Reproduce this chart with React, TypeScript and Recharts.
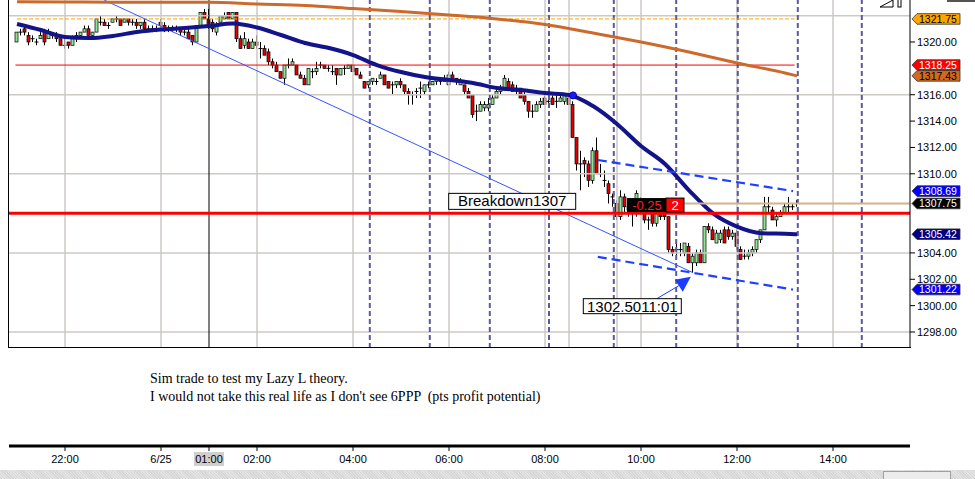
import React from "react";
import {
  ComposedChart,
  Bar,
  Line,
  XAxis,
  YAxis,
  ReferenceLine,
  ReferenceDot,
} from "recharts";

// 5-minute ES bars, first bar 21:00 on 6/24 (minutes are counted from 6/25 00:00)
const START_MIN = -180;
const BAR_MIN = 5;

// [open, high, low, close]
const bars: [number, number, number, number][] = [
  [1320.0, 1320.75, 1320.0, 1320.75],
  [1320.75, 1321.0, 1320.5, 1320.75],
  [1321.0, 1321.25, 1320.5, 1320.75],
  [1320.5, 1320.75, 1319.75, 1320.0],
  [1320.25, 1320.5, 1320.0, 1320.25],
  [1320.0, 1320.25, 1319.75, 1320.0],
  [1320.25, 1320.75, 1320.25, 1320.5],
  [1320.75, 1321.0, 1319.75, 1320.0],
  [1320.25, 1321.0, 1320.25, 1320.75],
  [1320.5, 1320.75, 1320.25, 1320.5],
  [1320.5, 1320.75, 1320.0, 1320.25],
  [1320.25, 1320.25, 1319.75, 1319.75],
  [1319.75, 1320.25, 1319.5, 1319.75],
  [1320.0, 1320.0, 1319.5, 1319.75],
  [1319.75, 1320.5, 1319.75, 1320.25],
  [1320.25, 1320.75, 1320.0, 1320.5],
  [1320.5, 1320.75, 1320.25, 1320.75],
  [1320.75, 1321.25, 1320.75, 1321.0],
  [1321.0, 1321.25, 1320.5, 1320.5],
  [1320.5, 1320.75, 1320.5, 1320.75],
  [1320.75, 1321.75, 1320.75, 1321.75],
  [1321.5, 1322.0, 1321.25, 1321.5],
  [1321.5, 1321.75, 1321.25, 1321.25],
  [1321.25, 1321.5, 1321.0, 1321.25],
  [1321.5, 1321.75, 1321.5, 1321.75],
  [1321.75, 1322.0, 1321.5, 1321.75],
  [1321.75, 1321.75, 1321.25, 1321.25],
  [1321.5, 1321.75, 1321.5, 1321.75],
  [1321.75, 1321.75, 1321.25, 1321.5],
  [1321.5, 1321.75, 1321.25, 1321.5],
  [1321.5, 1321.75, 1321.0, 1321.25],
  [1321.25, 1321.5, 1321.0, 1321.5],
  [1321.5, 1321.75, 1320.75, 1321.0],
  [1321.0, 1321.25, 1320.75, 1321.0],
  [1321.0, 1321.25, 1320.75, 1321.0],
  [1321.0, 1321.25, 1320.75, 1321.0],
  [1321.5, 1321.75, 1321.0, 1321.25],
  [1321.25, 1321.5, 1320.75, 1321.0],
  [1321.0, 1321.25, 1320.75, 1321.0],
  [1321.0, 1321.25, 1320.75, 1321.0],
  [1321.0, 1321.25, 1320.75, 1321.0],
  [1321.0, 1321.0, 1320.5, 1320.75],
  [1320.75, 1321.0, 1320.5, 1320.75],
  [1320.75, 1321.0, 1320.25, 1320.25],
  [1320.5, 1320.5, 1319.75, 1320.0],
  [1320.0, 1321.25, 1320.0, 1321.25],
  [1321.25, 1322.25, 1321.25, 1322.25],
  [1322.25, 1322.5, 1321.75, 1321.75],
  [1321.75, 1322.5, 1321.0, 1321.25],
  [1321.5, 1321.75, 1320.75, 1321.0],
  [1320.75, 1321.5, 1320.5, 1321.25],
  [1321.5, 1322.0, 1321.5, 1322.0],
  [1321.75, 1322.25, 1321.75, 1322.0],
  [1322.25, 1322.25, 1321.75, 1321.75],
  [1321.75, 1322.25, 1321.75, 1322.25],
  [1322.25, 1322.25, 1320.0, 1320.25],
  [1320.25, 1320.5, 1319.5, 1319.5],
  [1319.75, 1320.75, 1319.5, 1320.25],
  [1320.0, 1320.25, 1319.5, 1319.5],
  [1319.5, 1320.25, 1319.5, 1320.0],
  [1320.0, 1320.5, 1319.5, 1319.75],
  [1319.5, 1320.0, 1318.75, 1319.5],
  [1319.5, 1319.75, 1319.0, 1319.0],
  [1319.25, 1319.5, 1318.25, 1318.5],
  [1318.5, 1318.75, 1318.0, 1318.25],
  [1318.25, 1318.5, 1317.75, 1317.75],
  [1317.75, 1317.75, 1317.25, 1317.25],
  [1317.25, 1318.25, 1316.75, 1318.25],
  [1318.25, 1318.75, 1318.0, 1318.25],
  [1318.25, 1318.75, 1318.25, 1318.5],
  [1318.25, 1318.25, 1317.5, 1317.5],
  [1317.5, 1317.75, 1317.25, 1317.25],
  [1317.25, 1317.5, 1316.75, 1316.75],
  [1316.75, 1318.0, 1316.75, 1318.0],
  [1317.75, 1318.0, 1317.25, 1317.75],
  [1317.75, 1318.5, 1317.5, 1318.0],
  [1318.25, 1318.5, 1318.0, 1318.25],
  [1318.25, 1318.25, 1318.0, 1318.0],
  [1318.0, 1318.25, 1317.75, 1318.0],
  [1317.75, 1318.25, 1317.5, 1317.75],
  [1318.0, 1318.0, 1316.75, 1317.5],
  [1317.5, 1318.0, 1317.5, 1318.0],
  [1318.0, 1318.25, 1317.5, 1318.0],
  [1318.0, 1318.25, 1318.0, 1318.25],
  [1318.25, 1318.25, 1317.75, 1317.75],
  [1318.0, 1318.0, 1317.5, 1317.5],
  [1317.5, 1317.75, 1317.25, 1317.25],
  [1317.0, 1317.0, 1316.5, 1316.5],
  [1316.75, 1317.0, 1316.5, 1317.0],
  [1317.0, 1317.25, 1316.75, 1317.25],
  [1317.0, 1317.25, 1316.75, 1317.0],
  [1317.25, 1317.75, 1317.25, 1317.5],
  [1317.5, 1317.5, 1316.75, 1316.75],
  [1317.0, 1317.0, 1316.5, 1316.5],
  [1316.75, 1317.0, 1316.0, 1316.75],
  [1316.75, 1317.0, 1316.5, 1317.0],
  [1317.0, 1317.25, 1316.5, 1316.75],
  [1316.75, 1316.75, 1316.0, 1316.25],
  [1316.25, 1316.5, 1315.25, 1316.0],
  [1316.0, 1316.25, 1315.25, 1316.0],
  [1316.25, 1316.5, 1315.75, 1316.25],
  [1316.5, 1317.0, 1315.75, 1316.5],
  [1316.25, 1316.75, 1316.0, 1316.75],
  [1316.75, 1317.0, 1316.5, 1316.75],
  [1316.75, 1317.0, 1316.75, 1317.0],
  [1317.0, 1317.25, 1316.75, 1317.25],
  [1317.25, 1317.25, 1316.75, 1317.0],
  [1317.0, 1317.5, 1317.0, 1317.25],
  [1316.75, 1317.75, 1316.75, 1317.5],
  [1317.5, 1317.75, 1317.0, 1317.25],
  [1317.25, 1317.25, 1316.75, 1317.0],
  [1316.75, 1317.25, 1316.75, 1317.0],
  [1316.75, 1316.75, 1316.0, 1316.25],
  [1316.25, 1316.5, 1315.75, 1315.75],
  [1316.0, 1316.0, 1314.25, 1314.5],
  [1314.75, 1315.25, 1314.0, 1314.75],
  [1314.75, 1315.5, 1314.75, 1315.25],
  [1315.0, 1315.5, 1314.75, 1315.25],
  [1315.0, 1315.75, 1314.75, 1315.25],
  [1315.25, 1316.0, 1315.25, 1315.75],
  [1315.75, 1316.5, 1315.75, 1316.25],
  [1316.25, 1316.75, 1316.0, 1316.5],
  [1316.5, 1317.5, 1316.5, 1317.25],
  [1317.0, 1317.25, 1316.5, 1316.5],
  [1316.75, 1317.0, 1316.25, 1316.25],
  [1316.25, 1316.75, 1316.0, 1316.5],
  [1316.5, 1316.5, 1315.75, 1315.75],
  [1316.0, 1316.25, 1315.25, 1315.5],
  [1315.5, 1315.5, 1314.25, 1314.75],
  [1314.75, 1315.25, 1314.25, 1314.75],
  [1314.75, 1315.5, 1314.75, 1315.25],
  [1315.25, 1315.75, 1315.0, 1315.5],
  [1315.75, 1316.0, 1315.25, 1315.25],
  [1315.5, 1315.75, 1315.0, 1315.5],
  [1315.75, 1316.0, 1315.25, 1315.25],
  [1315.5, 1316.0, 1315.0, 1315.5],
  [1315.5, 1316.0, 1315.5, 1315.75],
  [1315.5, 1316.0, 1315.25, 1316.0],
  [1315.75, 1316.0, 1315.25, 1315.25],
  [1315.25, 1315.5, 1312.75, 1312.75],
  [1312.75, 1312.75, 1310.25, 1310.75],
  [1310.75, 1311.75, 1308.75, 1310.75],
  [1311.0, 1311.25, 1309.75, 1310.75],
  [1310.75, 1311.0, 1309.0, 1309.5],
  [1309.5, 1312.0, 1309.25, 1311.75],
  [1311.75, 1312.75, 1310.0, 1310.0],
  [1310.0, 1310.75, 1309.75, 1310.0],
  [1309.5, 1310.25, 1309.0, 1309.5],
  [1309.25, 1309.5, 1307.75, 1308.5],
  [1308.25, 1308.5, 1307.5, 1308.25],
  [1307.75, 1308.0, 1306.5, 1306.75],
  [1306.75, 1308.75, 1306.5, 1308.25],
  [1308.25, 1308.5, 1307.0, 1307.5],
  [1307.5, 1307.75, 1306.75, 1307.25],
  [1307.0, 1307.25, 1306.0, 1307.0],
  [1308.0, 1308.75, 1306.75, 1308.5],
  [1308.0, 1308.25, 1307.0, 1307.25],
  [1307.0, 1307.25, 1306.25, 1306.5],
  [1306.5, 1306.75, 1305.75, 1306.5],
  [1307.0, 1307.25, 1306.0, 1306.25],
  [1306.25, 1307.25, 1306.0, 1307.0],
  [1307.0, 1307.25, 1306.5, 1306.75],
  [1307.0, 1307.25, 1306.5, 1306.75],
  [1306.75, 1306.75, 1304.0, 1304.25],
  [1304.25, 1304.5, 1303.75, 1304.0],
  [1304.25, 1304.75, 1303.75, 1304.25],
  [1304.25, 1304.75, 1303.75, 1304.25],
  [1304.0, 1304.75, 1303.75, 1304.75],
  [1304.5, 1304.75, 1303.25, 1303.25],
  [1303.25, 1304.0, 1302.5, 1303.75],
  [1303.25, 1304.25, 1303.0, 1304.0],
  [1304.0, 1304.25, 1303.25, 1303.25],
  [1303.25, 1306.0, 1303.25, 1306.0],
  [1306.0, 1306.25, 1305.5, 1305.75],
  [1305.75, 1306.0, 1305.0, 1305.0],
  [1304.75, 1305.75, 1304.75, 1305.5],
  [1305.0, 1305.75, 1304.75, 1305.5],
  [1305.75, 1306.0, 1304.75, 1304.75],
  [1305.75, 1306.0, 1305.0, 1305.25],
  [1305.25, 1305.75, 1305.0, 1305.5],
  [1305.5, 1305.75, 1304.25, 1304.5],
  [1304.25, 1304.5, 1303.5, 1303.5],
  [1303.75, 1304.25, 1303.5, 1303.75],
  [1303.75, 1304.25, 1303.5, 1304.0],
  [1304.0, 1304.5, 1303.75, 1304.25],
  [1304.25, 1305.0, 1304.0, 1305.0],
  [1305.0, 1305.75, 1304.75, 1305.75],
  [1305.75, 1308.25, 1305.75, 1307.5],
  [1307.5, 1308.25, 1307.0, 1307.5],
  [1307.25, 1307.5, 1306.5, 1306.5],
  [1306.5, 1307.0, 1306.0, 1306.75],
  [1306.75, 1307.25, 1306.75, 1307.0],
  [1307.0, 1307.75, 1307.0, 1307.5],
  [1307.5, 1308.25, 1307.0, 1307.5],
  [1307.5, 1307.75, 1307.25, 1307.5],
  [1307.75, 1308.0, 1307.5, 1307.75],
];

// moving averages: [bar index, value]
const navyMa: [number, number][] = [
  [0, 1321.37], [6, 1320.91], [12, 1320.38], [18, 1320.3], [24, 1320.46],
  [30, 1320.76], [36, 1320.95], [42, 1321.06], [48, 1321.21], [54, 1321.4],
  [60, 1321.1], [66, 1320.53], [72, 1319.92], [78, 1319.54], [84, 1319.01],
  [90, 1318.25], [96, 1317.72], [102, 1317.34], [108, 1317.12], [114, 1316.89],
  [120, 1316.51], [126, 1316.36], [132, 1316.13], [138, 1315.98], [144, 1315.14],
  [150, 1313.78], [156, 1312.11], [162, 1310.75], [168, 1308.75], [174, 1307.0],
  [180, 1306.0], [186, 1305.5], [192, 1305.45], [195, 1305.42],
];
const orangeMa: [number, number][] = [
  [0, 1323.06], [12, 1323.04], [24, 1323.01], [36, 1323.01], [48, 1323.01],
  [60, 1322.88], [72, 1322.77], [84, 1322.54], [96, 1322.31], [108, 1322.05],
  [120, 1321.75], [132, 1321.33], [144, 1320.68], [156, 1320.0], [168, 1319.24],
  [180, 1318.41], [192, 1317.65], [195, 1317.43],
];

// 1306, 1308 and 1318 sit under the price flags in the original, so they are not labelled
const priceTicks = [1298, 1300, 1302, 1304, 1310, 1312, 1314, 1316, 1320];
const priceGrid = [1298, 1304, 1310, 1316, 1322];
const timeGrid = [-120, 0, 120, 240, 360, 480, 510, 570, 600, 720, 840];
const dashedTimes = [261, 336, 411, 485, 566, 644, 721, 796, 876];
const timeTicks = [-120, 0, 60, 120, 240, 360, 480, 600, 720, 840];
const timeLabels = ["22:00", "6/25", "01:00", "02:00", "04:00", "06:00", "08:00", "10:00", "12:00", "14:00"];

const flags = [
  { value: 1321.75, fill: "#ffa500", color: "#000" },
  { value: 1318.25, fill: "#ff0000", color: "#fff" },
  { value: 1317.43, fill: "#d2691e", color: "#000" },
  { value: 1308.69, fill: "#0000ff", color: "#fff" },
  { value: 1307.75, fill: "#000000", color: "#fff" },
  { value: 1305.42, fill: "#000080", color: "#fff" },
  { value: 1301.22, fill: "#0000ff", color: "#fff" },
];

const breakdownLevel = 1307;
const entryLevel = 1307.75;
const resistance = 1318.25;
const highLevel = 1321.75;
const lowPoint = { m: 661, price: 1302.5 };
const trendLine = [{ m: -71, price: 1323.18 }, { m: 665, price: 1302.5 }];
const upperChannel = [{ m: 546, price: 1311.05 }, { m: 790, price: 1308.69 }];
const lowerChannel = [{ m: 546, price: 1303.7 }, { m: 790, price: 1301.22 }];

const X_DOMAIN: [number, number] = [-190, 936.25];
const Y_DOMAIN: [number, number] = [1296.786, 1323.186];
const SANS = "'Liberation Sans', Arial, sans-serif";

const navyMap = new Map(navyMa);
const orangeMap = new Map(orangeMa);
const rows = bars.map(([o, h, l, c], k) => ({
  m: START_MIN + k * BAR_MIN,
  o,
  h,
  l,
  c,
  range: [l, h],
  ma: navyMap.has(k) ? navyMap.get(k) : null,
  ma2: orangeMap.has(k) ? orangeMap.get(k) : null,
}));

const Candle = (props: any) => {
  const { x, y, width, height, payload } = props;
  const { o, h, l, c } = payload;
  const top = Math.min(y, y + height);
  const span = Math.abs(height);
  const py = (v: number) => (h === l ? top : top + ((h - v) / (h - l)) * span);
  const cx = x + width / 2;
  const bt = py(Math.max(o, c));
  const bb = py(Math.min(o, c));
  return (
    <g>
      <line x1={cx} x2={cx} y1={top} y2={top + span} stroke="#000" strokeWidth={1} />
      {o === c ? (
        <line x1={cx - 2} x2={cx + 2} y1={bt} y2={bt} stroke="#000" strokeWidth={1} />
      ) : (
        <rect
          x={cx - 1.5}
          y={bt}
          width={3}
          height={Math.max(1, bb - bt)}
          fill={c > o ? "#8fe68f" : "#e00000"}
          stroke="#000"
          strokeWidth={0.7}
        />
      )}
    </g>
  );
};

const FlagLabel = ({ viewBox, fill, color, text }: any) => {
  const x0 = viewBox.x + viewBox.width + 2;
  const cy = viewBox.y;
  return (
    <g>
      <polygon
        points={`${x0},${cy} ${x0 + 5},${cy - 5.3} ${x0 + 48},${cy - 5.3} ${x0 + 48},${cy + 5.3} ${x0 + 5},${cy + 5.3}`}
        fill={fill}
        stroke="#333"
        strokeWidth={0.8}
      />
      <text x={x0 + 7} y={cy + 3.8} fontSize={10.5} fontFamily={SANS} fill={color}>
        {text}
      </text>
    </g>
  );
};

const BreakdownBox = ({ cx, cy }: any) => (
  <g>
    <rect x={cx - 63.5} y={cy - 20} width={127} height={16} fill="#fff" stroke="#000" strokeWidth={1} />
    <text x={cx} y={cy - 7} textAnchor="middle" fontSize={15} fontFamily={SANS} fill="#000">
      Breakdown1307
    </text>
  </g>
);

const PositionBox = ({ cx, cy }: any) => (
  <g>
    <rect x={cx} y={cy - 7} width={39} height={14} fill="#000" />
    <rect x={cx + 39} y={cy - 7} width={18} height={14} fill="#ff0000" stroke="#000" strokeWidth={1} />
    <text x={cx + 20} y={cy + 5} textAnchor="middle" fontSize={13} fontFamily={SANS} fill="#ff2020">
      -0.25
    </text>
    <text x={cx + 48} y={cy + 5} textAnchor="middle" fontSize={13} fontFamily={SANS} fill="#fff">
      2
    </text>
  </g>
);

const LowMarker = ({ cx, cy }: any) => (
  <g>
    <line x1={cx - 33} y1={cy + 26} x2={cx - 11} y2={cy + 13} stroke="#1a3cff" strokeWidth={1} />
    <polygon
      points={`${cx + 1},${cy + 4} ${cx - 15},${cy + 7} ${cx - 7},${cy + 19}`}
      fill="#1a3cff"
    />
    <rect x={cx - 106.5} y={cy + 26} width={98} height={15} fill="#fff" stroke="#000" strokeWidth={1} />
    <text x={cx - 57.5} y={cy + 39} textAnchor="middle" fontSize={15} fontFamily={SANS} fill="#000">
      1302.5011:01
    </text>
  </g>
);

const TimeTick = (props: any) => {
  const { x, y, payload } = props;
  const label = timeLabels[timeTicks.indexOf(payload.value)];
  return (
    <g>
      {payload.value === 60 && <rect x={x - 15} y={y - 1} width={30} height={14} fill="#cfcfcf" />}
      <text x={x} y={y + 10} textAnchor="middle" fontSize={11} fontFamily={SANS} fill="#000">
        {label}
      </text>
    </g>
  );
};

export default function App() {
  return (
    <div style={{ position: "relative", width: 975, height: 479, background: "#fff", overflow: "hidden" }}>
      <style>{`body{margin:0}`}</style>
      <div style={{ position: "absolute", left: 0, top: 0 }}>
        <ComposedChart width={975} height={348} data={rows} margin={{ top: 0, right: 0, left: 9, bottom: 0 }}>
          <XAxis dataKey="m" type="number" domain={X_DOMAIN} allowDataOverflow hide />
          <YAxis
            orientation="right"
            width={65}
            domain={Y_DOMAIN}
            allowDataOverflow
            ticks={priceTicks}
            interval={0}
            tickFormatter={(v: number) => v.toFixed(2)}
            tick={{ fill: "#000", fontSize: 11, fontFamily: SANS }}
            tickSize={5}
            tickLine={{ stroke: "#000" }}
            axisLine={{ stroke: "#000" }}
          />
          {priceGrid.map((v) => (
            <ReferenceLine key={`hg${v}`} y={v} stroke="#cdc9c4" strokeWidth={1.5} />
          ))}
          {timeGrid.map((v) => (
            <ReferenceLine key={`vg${v}`} x={v} stroke="#cdc9c4" strokeWidth={1.5} />
          ))}
          <ReferenceLine x={60} stroke="#000" strokeWidth={1} />
          {dashedTimes.map((v) => (
            <ReferenceLine key={`dv${v}`} x={v} stroke="#5a5a9e" strokeWidth={2} strokeDasharray="5 3" />
          ))}
          <ReferenceLine
            segment={[{ x: -180, y: highLevel }, { x: 792, y: highLevel }]}
            stroke="#ffa500"
            strokeWidth={1}
            strokeDasharray="4 2"
          />
          <ReferenceLine
            segment={[{ x: -182, y: resistance }, { x: 792, y: resistance }]}
            stroke="#ff0000"
            strokeWidth={1}
          />
          <ReferenceLine
            segment={[{ x: trendLine[0].m, y: trendLine[0].price }, { x: trendLine[1].m, y: trendLine[1].price }]}
            stroke="#3355ff"
            strokeWidth={1}
          />
          <Line
            dataKey="ma2"
            type="monotone"
            stroke="#cc6a2c"
            strokeWidth={3}
            dot={false}
            connectNulls
            isAnimationActive={false}
          />
          <Bar dataKey="range" barSize={3} shape={<Candle />} isAnimationActive={false} />
          <Line
            dataKey="ma"
            type="monotone"
            stroke="#14148a"
            strokeWidth={4}
            dot={false}
            connectNulls
            isAnimationActive={false}
          />
          <ReferenceLine
            segment={[{ x: upperChannel[0].m, y: upperChannel[0].price }, { x: upperChannel[1].m, y: upperChannel[1].price }]}
            stroke="#2040ff"
            strokeWidth={2.2}
            strokeDasharray="9 5"
          />
          <ReferenceLine
            segment={[{ x: lowerChannel[0].m, y: lowerChannel[0].price }, { x: lowerChannel[1].m, y: lowerChannel[1].price }]}
            stroke="#2040ff"
            strokeWidth={2.2}
            strokeDasharray="9 5"
          />
          <ReferenceLine y={breakdownLevel} stroke="#ff0000" strokeWidth={3} />
          <ReferenceLine
            segment={[{ x: 654, y: entryLevel }, { x: 936, y: entryLevel }]}
            stroke="#d2b48c"
            strokeWidth={2}
          />
          <ReferenceDot x={START_MIN + 139 * BAR_MIN} y={1315.95} r={3.5} fill="#1a1aff" stroke="#0000aa" />
          <ReferenceDot x={439} y={breakdownLevel} shape={<BreakdownBox />} />
          <ReferenceDot x={582.5} y={1307.63} shape={<PositionBox />} />
          <ReferenceDot x={lowPoint.m} y={lowPoint.price} shape={<LowMarker />} />
          {flags.map((f) => (
            <ReferenceLine
              key={`f${f.value}`}
              y={f.value}
              stroke="none"
              label={<FlagLabel fill={f.fill} color={f.color} text={f.value.toFixed(2)} />}
            />
          ))}
        </ComposedChart>
      </div>
      {/* plot frame */}
      <div style={{ position: "absolute", left: 8, top: 0, width: 1, height: 348, background: "#000" }} />
      <div style={{ position: "absolute", left: 8, top: 347, width: 903, height: 1, background: "#000" }} />
      <svg style={{ position: "absolute", left: 0, top: 0 }} width={975} height={10}>
        <path d="M880,7 L893,0 L893,7 Z" fill="none" stroke="#000" strokeWidth={1} />
        <rect x={898} y={-1} width={3} height={8} fill="none" stroke="#000" strokeWidth={1} />
        <line x1={947} y1={1} x2={975} y2={1} stroke="#555" strokeWidth={2} />
      </svg>

      <div
        style={{
          position: "absolute",
          left: 150,
          top: 370,
          fontFamily: "'Liberation Serif', 'Times New Roman', serif",
          fontSize: 14,
          lineHeight: "18px",
          color: "#000",
          whiteSpace: "pre",
        }}
      >
        {"Sim trade to test my Lazy L theory.\nI would not take this real life as I don't see 6PPP  (pts profit potential)"}
      </div>

      <div style={{ position: "absolute", left: 0, top: 436 }}>
        <ComposedChart width={975} height={40} data={rows} margin={{ top: 0, right: 65, left: 9, bottom: 0 }}>
          <XAxis
            dataKey="m"
            type="number"
            domain={X_DOMAIN}
            allowDataOverflow
            ticks={timeTicks}
            interval={0}
            height={30}
            tick={<TimeTick />}
            tickSize={5}
            tickLine={{ stroke: "#000" }}
            axisLine={{ stroke: "#000", strokeWidth: 3 }}
          />
          <YAxis hide domain={Y_DOMAIN} />
          <Line dataKey="c" stroke="none" dot={false} isAnimationActive={false} />
        </ComposedChart>
      </div>

      <div
        style={{
          position: "absolute",
          left: 0,
          top: 470,
          width: 975,
          height: 9,
          background: "repeating-linear-gradient(45deg,#e4e4e4 0 1px,#d6d6d6 1px 2px)",
        }}
      />
      <div
        style={{
          position: "absolute",
          left: 883,
          top: 471,
          width: 66,
          height: 8,
          background: "#ececec",
          border: "1px solid #a0a0a0",
        }}
      />
    </div>
  );
}
